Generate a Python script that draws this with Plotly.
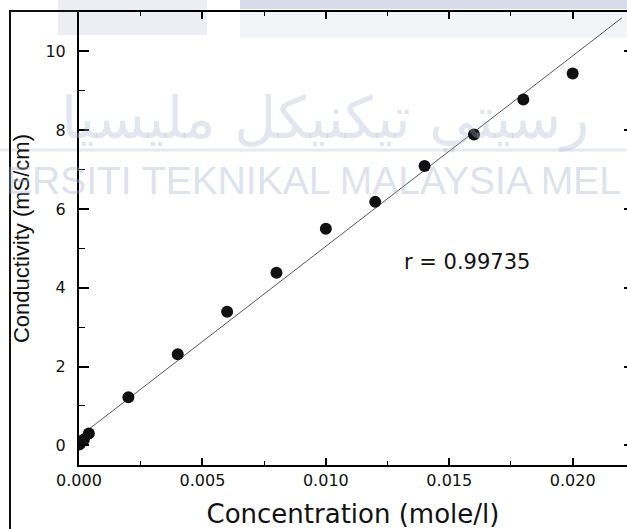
import numpy as np
import plotly.graph_objects as go

# ---- data ----
concentration = [0.00001, 0.00005, 0.0001, 0.0002, 0.0004, 0.002, 0.004, 0.006,
                 0.008, 0.010, 0.012, 0.014, 0.016, 0.018, 0.020]
conductivity = [0.02, 0.05, 0.10, 0.15, 0.30, 1.22, 2.31, 3.39,
                4.38, 5.50, 6.18, 7.09, 7.89, 8.78, 9.44]
fit_x_range = [0.0, 0.0220]

x_tick_vals = [0.000, 0.005, 0.010, 0.015, 0.020]
x_tick_text = ["0.000", "0.005", "0.010", "0.015", "0.020"]
x_minor_vals = [0.0025, 0.0075, 0.0125, 0.0175]
y_tick_vals = [0, 2, 4, 6, 8, 10]
y_tick_text = ["0", "2", "4", "6", "8", "10"]
y_minor_vals = [1, 3, 5, 7, 9]

x_title = "Concentration (mole/l)"
y_title = "Conductivity (mS/cm)"
r_label = "r = 0.99735"
watermark_latin = "ERSITI TEKNIKAL MALAYSIA MEL"
watermark_jawi = "رسيتي تيكنيكل مليسيا"

# ---- linear fit ----
slope, intercept = np.polyfit(concentration, conductivity, 1)
fit_x = np.array(fit_x_range)
fit_y = slope * fit_x + intercept

W, H = 627, 529
L, R, T, B = 79, 0, 12, 64


def px(x):
    return (x - L) / (W - L - R)


def py(y):
    return (H - B - y) / (H - T - B)


fig = go.Figure()
fig.add_trace(go.Scatter(x=fit_x, y=fit_y, mode="lines",
                         line=dict(color="#555555", width=1),
                         showlegend=False, hoverinfo="skip"))
fig.add_trace(go.Scatter(x=concentration, y=conductivity, mode="markers",
                         marker=dict(color="#111111", size=12),
                         showlegend=False))
fig.add_trace(go.Scatter(x=[None], y=[None], yaxis="y2", showlegend=False,
                         hoverinfo="skip"))

axis_font = dict(family="DejaVu Sans", size=16, color="#111111")

fig.update_layout(
    width=W, height=H,
    margin=dict(l=L, r=R, t=T, b=B, pad=0),
    paper_bgcolor="white", plot_bgcolor="white",
    xaxis=dict(range=[0, 0.0222], tickmode="array", tickvals=x_tick_vals,
               ticktext=x_tick_text, ticks="inside", ticklen=7, tickwidth=1.5,
               tickcolor="#000", showline=True, linewidth=2, linecolor="#000",
               mirror="ticks", showgrid=False, zeroline=False,
               tickfont=axis_font, ticklabelstandoff=0,
               minor=dict(tickmode="array", tickvals=x_minor_vals, ticks="inside",
                          ticklen=4, tickwidth=1.2, tickcolor="#000"),
               title=dict(text=x_title, standoff=18,
                          font=dict(family="DejaVu Sans", size=26, color="#111"))),
    yaxis=dict(range=[-0.5, 11], tickmode="array", tickvals=y_tick_vals,
               ticktext=y_tick_text, ticks="inside", ticklen=10, tickwidth=1.5,
               tickcolor="#000", showline=True, linewidth=2, linecolor="#000",
               showgrid=False, zeroline=False, tickfont=axis_font,
               ticklabelstandoff=8,
               minor=dict(tickmode="array", tickvals=y_minor_vals, ticks="inside",
                          ticklen=6, tickwidth=1.2, tickcolor="#000"),
               title=dict(text=y_title, standoff=10,
                          font=dict(family="Liberation Sans", size=22, color="#111"))),
    yaxis2=dict(range=[-0.5, 11], overlaying="y", side="right", tickmode="array",
                tickvals=y_tick_vals, ticks="inside", ticklen=3, tickwidth=1.5,
                tickcolor="#000", showticklabels=False, showline=False,
                showgrid=False, zeroline=False),
)

# r annotation
fig.add_annotation(x=0.0157, y=4.65, xref="x", yref="y", text=r_label,
                   showarrow=False,
                   font=dict(family="DejaVu Sans", size=21, color="#111"))

# background bands from the scanned page (logo strip)
fig.add_shape(type="rect", xref="paper", yref="paper", layer="below",
              x0=px(58), x1=px(207), y0=py(35), y1=py(0),
              fillcolor="#eceef4", line_width=0)
fig.add_shape(type="rect", xref="paper", yref="paper", layer="below",
              x0=px(240), x1=px(627), y0=py(9), y1=py(0),
              fillcolor="#d8dbe9", line_width=0)
fig.add_shape(type="rect", xref="paper", yref="paper", layer="below",
              x0=px(240), x1=px(627), y0=py(38), y1=py(12),
              fillcolor="#f3f4f7", line_width=0)
fig.add_shape(type="line", xref="paper", yref="paper", layer="below",
              x0=px(0), x1=px(627), y0=py(150), y1=py(150),
              line=dict(color="#e8e9f0", width=3))

# outer frame
fig.add_shape(type="line", xref="paper", yref="paper",
              x0=px(10), x1=px(10), y0=py(529), y1=py(10),
              line=dict(color="#111", width=2))
fig.add_shape(type="line", xref="paper", yref="paper",
              x0=px(10), x1=px(79), y0=py(11), y1=py(11),
              line=dict(color="#111", width=2))

# watermark
fig.add_annotation(x=px(313), y=py(180), xref="paper", yref="paper",
                   text=watermark_latin, showarrow=False,
                   font=dict(family="Liberation Sans", size=39,
                             color="rgba(170,178,205,0.40)"))
fig.add_annotation(x=px(325), y=py(82), xref="paper", yref="paper",
                   text=watermark_jawi, showarrow=False,
                   font=dict(family="DejaVu Sans", size=58,
                             color="rgba(170,178,205,0.32)"))

fig.write_html("out.html")
